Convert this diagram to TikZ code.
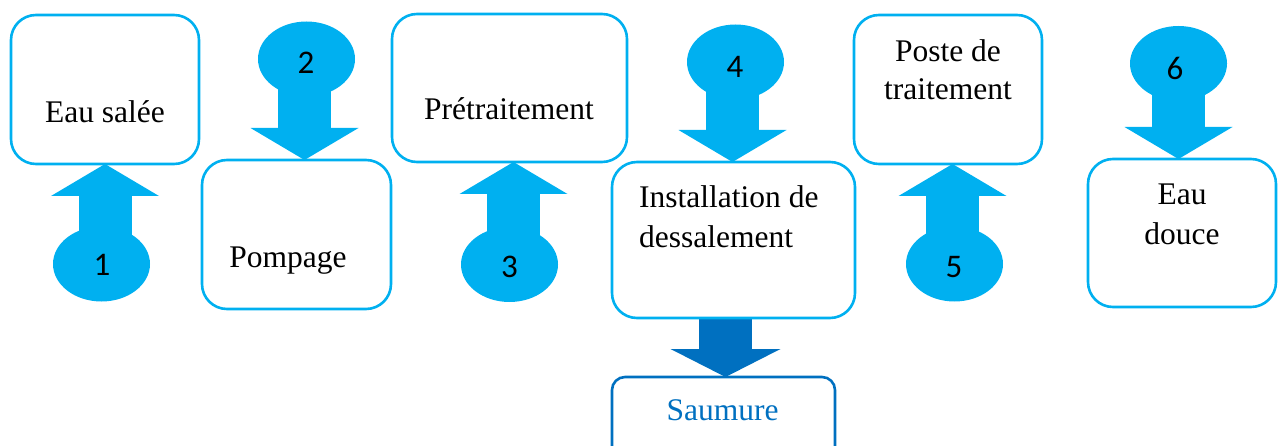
\documentclass[tikz,border=0pt]{standalone}
\usepackage{fontspec}
\setmainfont{Liberation Serif}
\newfontfamily\numfont{Carlito}
\usetikzlibrary{shapes.geometric,arrows.meta,backgrounds}
\definecolor{lblue}{HTML}{00B0F0}
\definecolor{dblue}{HTML}{0070C0}
\begin{document}
\begin{tikzpicture}[x=1pt,y=-1pt,
  box/.style={draw=lblue, line width=2.6pt, rounded corners=25pt, rectangle, inner sep=0pt, outer sep=0pt},
  blob/.style={ellipse, fill=lblue, minimum width=97pt, minimum height=75pt, inner sep=0pt, outer sep=0pt},
  lbl/.style={font=\fontsize{31.5}{38}\selectfont, anchor=base, inner sep=0pt},
  num/.style={font=\numfont\fontsize{33}{38}\selectfont, anchor=base, inner sep=0pt},
  flow/.style={draw=lblue, line width=53pt, -{Triangle[width=108pt,length=32pt,line width=0pt]}},
  brine/.style={draw=dblue, line width=53pt, -{Triangle[width=110pt,length=28pt,line width=0pt]}},
]
\useasboundingbox (0,0) rectangle (1279,446);

% boxes
\node[box, minimum width=188pt, minimum height=149pt] (salee) at (105,89.5) {};
\node[box, minimum width=189pt, minimum height=149pt] (pomp) at (296.5,234.5) {};
\node[box, minimum width=235pt, minimum height=148pt] (pret) at (509.5,88) {};
\node[box, minimum width=243pt, minimum height=156pt] (inst) at (733.5,240) {};
\node[box, minimum width=188pt, minimum height=149pt] (poste) at (948,89.5) {};
\node[box, minimum width=188pt, minimum height=148pt] (douce) at (1182,233) {};
\node[box, draw=dblue, rounded corners=13pt, minimum width=223pt, minimum height=92pt] (sau) at (723.5,423) {};

% box texts
\node[lbl] (tsalee) at (105,123) {Eau salée};
\node[lbl] (tpomp) at (288,268) {Pompage};
\node[lbl] (tpret) at (509,120) {Prétraitement};
\node[lbl, anchor=base west] (tinst1) at (639,208) {Installation de};
\node[lbl, anchor=base west] (tinst2) at (639,248) {dessalement};
\node[lbl] (tposte1) at (948,62) {Poste de};
\node[lbl] (tposte2) at (948,100) {traitement};
\node[lbl] (tdouce1) at (1182,205) {Eau};
\node[lbl] (tdouce2) at (1182,245) {douce};
\node[lbl, text=dblue] (tsau) at (722.5,420) {Saumure};

% ellipses
\node[blob] (e1) at (101.5,264) {};
\node[blob] (e2) at (306.5,59) {};
\node[blob] (e3) at (509.5,264.5) {};
\node[blob] (e4) at (735.5,62) {};
\node[blob] (e5) at (954.5,264) {};
\node[blob] (e6) at (1178.5,63.5) {};
\node[num] (n1) at (102,276) {1};
\node[num] (n2) at (306,74) {2};
\node[num] (n3) at (509.5,278) {3};
\node[num] (n4) at (735,78) {4};
\node[num] (n5) at (954,278) {5};
\node[num] (n6) at (1175,80) {6};

% block arrows
\begin{pgfonlayer}{background}
\draw[flow] (salee.south |- e1.center) -- (salee.south);
\draw[flow] ([xshift=-2pt]e2.center) -- ([xshift=-2pt]e2.center |- pomp.north);
\draw[flow] ([xshift=4pt]e3.center) -- ([xshift=4pt]e3.center |- pret.south);
\draw[flow] ([xshift=-3pt]e4.center) -- ([xshift=-3pt]e4.center |- inst.north);
\draw[flow] ([xshift=-2pt]e5.center) -- ([xshift=-2pt]e5.center |- poste.south);
\draw[flow] (e6.center) -- (e6.center |- douce.north);
\draw[brine] ([xshift=2pt]sau.north |- inst.south) -- ([xshift=2pt]sau.north);
\end{pgfonlayer}
\end{tikzpicture}
\end{document}
